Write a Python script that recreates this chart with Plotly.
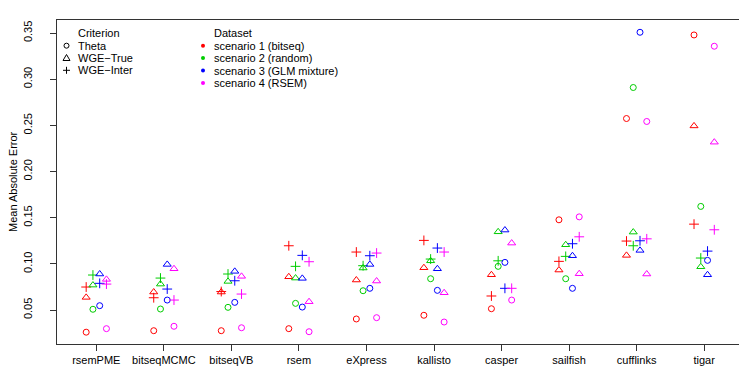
"""Mean absolute error per method, criterion and simulated dataset."""

import plotly.graph_objects as go

methods = ["rsemPME", "bitseqMCMC", "bitseqVB", "rsem", "eXpress",
           "kallisto", "casper", "sailfish", "cufflinks", "tigar"]

criteria = ["Theta", "WGE\u2212True", "WGE\u2212Inter"]
datasets = ["scenario 1 (bitseq)", "scenario 2 (random)",
            "scenario 3 (GLM mixture)", "scenario 4 (RSEM)"]

# scenario 1 (bitseq)
s1_theta = [0.0260, 0.0276, 0.0276, 0.0298, 0.0403, 0.0443, 0.0514, 0.1477, 0.2574, 0.3479]
s1_true = [0.0637, 0.0695, 0.0695, 0.0860, 0.0825, 0.0958, 0.0882, 0.0933, 0.1092, 0.2494]
s1_inter = [0.0749, 0.0633, 0.0700, 0.1196, 0.1128, 0.1254, 0.0652, 0.1027, 0.1247, 0.1430]

# scenario 2 (random)
s2_theta = [0.0508, 0.0511, 0.0529, 0.0572, 0.0709, 0.0839, 0.0973, 0.0839, 0.2910, 0.1622]
s2_true = [0.0770, 0.0781, 0.0810, 0.0846, 0.0955, 0.1033, 0.1347, 0.1207, 0.1344, 0.0969]
s2_inter = [0.0879, 0.0846, 0.0890, 0.0973, 0.0980, 0.1052, 0.1033, 0.1081, 0.1196, 0.1063]

# scenario 3 (GLM mixture)
s3_theta = [0.0547, 0.0608, 0.0583, 0.0532, 0.0735, 0.0713, 0.1016, 0.0735, 0.3508, 0.1038]
s3_true = [0.0890, 0.0994, 0.0919, 0.0843, 0.0994, 0.0947, 0.1366, 0.1088, 0.1146, 0.0882]
s3_inter = [0.0789, 0.0727, 0.0817, 0.1092, 0.1088, 0.1171, 0.0735, 0.1218, 0.1250, 0.1138]

# scenario 4 (RSEM)
s4_theta = [0.0298, 0.0324, 0.0308, 0.0265, 0.0417, 0.0370, 0.0608, 0.1509, 0.2542, 0.3357]
s4_true = [0.0832, 0.0947, 0.0865, 0.0590, 0.0814, 0.0687, 0.1225, 0.0893, 0.0890, 0.2318]
s4_inter = [0.0781, 0.0608, 0.0673, 0.1023, 0.1117, 0.1128, 0.0735, 0.1293, 0.1271, 0.1369]

y_ticks = [0.05, 0.10, 0.15, 0.20, 0.25, 0.30, 0.35]

series = [
    [s1_theta, s1_true, s1_inter],
    [s2_theta, s2_true, s2_inter],
    [s3_theta, s3_true, s3_inter],
    [s4_theta, s4_true, s4_inter],
]
colors = ["#FF0000", "#00CD00", "#0000FF", "#FF00FF"]
offsets = [-0.15, -0.05, 0.05, 0.15]
symbols = ["circle-open", "triangle-up-open", "cross-thin-open"]
sizes = [6, 7, 7]

FONT = "Liberation Sans, Arial, Helvetica, sans-serif"

# plot area in pixels (R-like margins)
W, H = 747, 374
L, R, T, B = 49, 12, 12, 38

fig = go.Figure()

for ds, (vals, col, off) in enumerate(zip(series, colors, offsets)):
    for ci, (y, sym, sz) in enumerate(zip(vals, symbols, sizes)):
        fig.add_trace(go.Scatter(
            x=[i + 1 + off for i in range(len(methods))],
            y=y,
            mode="markers",
            marker=dict(symbol=sym, size=sz, color=col, line=dict(color=col, width=1)),
            showlegend=False,
            hoverinfo="skip",
        ))


def px_to_paper(px, py):
    return (px - L) / (W - L - R), (H - B - py) / (H - T - B)


shapes = []
annotations = []


def add_text(px, py, text, **kw):
    xp, yp = px_to_paper(px, py)
    ann = dict(x=xp, y=yp, xref="paper", yref="paper", text=text,
               showarrow=False, xanchor="left", yanchor="middle",
               font=dict(size=11, color="black", family=FONT))
    ann.update(kw)
    annotations.append(ann)


def add_symbol(px, py, kind, color="black"):
    xp, yp = px_to_paper(px, py)
    base = dict(xref="paper", yref="paper", xsizemode="pixel", ysizemode="pixel",
                xanchor=xp, yanchor=yp, line=dict(color=color, width=1))
    if kind == "circle":
        shapes.append(dict(type="circle", x0=-2.5, x1=2.5, y0=-2.5, y1=2.5, **base))
    elif kind == "dot":
        base["line"] = dict(color=color, width=0)
        shapes.append(dict(type="circle", x0=-2, x1=2, y0=-2, y1=2, fillcolor=color, **base))
    elif kind == "triangle":
        shapes.append(dict(type="path", path="M-3.5,-2.5 L3.5,-2.5 L0,3.5 Z", **base))
    elif kind == "plus":
        shapes.append(dict(type="path", path="M-3.5,0 L3.5,0 M0,-3.5 L0,3.5", **base))


# legend: Criterion
add_text(68, 25, "Criterion")
for k, (lab, kind) in enumerate(zip(criteria, ["circle", "triangle", "plus"])):
    add_symbol(58.5, 37.7 + 12.3 * k, kind)
    add_text(68, 37.7 + 12.3 * k, lab)

# legend: Dataset
add_text(204, 25, "Dataset")
for k, (lab, col) in enumerate(zip(datasets, colors)):
    add_symbol(195, 37.7 + 12.4 * k, "dot", col)
    add_text(204, 37.7 + 12.4 * k, lab)

# y axis title, placed like R's mtext
add_text(5, 174, "Mean Absolute Error", textangle=-90, xanchor="center")

fig.update_layout(
    width=W,
    height=H,
    margin=dict(l=L, r=R, t=T, b=B, pad=0, autoexpand=False),
    paper_bgcolor="white",
    plot_bgcolor="white",
    font=dict(family=FONT, size=11, color="black"),
    shapes=shapes,
    annotations=annotations,
    xaxis=dict(
        range=[0.418, 10.575],
        tickvals=list(range(1, len(methods) + 1)),
        ticktext=methods,
        ticks="outside", ticklen=6, tickcolor="#333333",
        showgrid=False, zeroline=False, automargin=False,
        showline=True, linecolor="#333333", linewidth=1, mirror=True,
        tickfont=dict(size=11),
    ),
    yaxis=dict(
        range=[0.0132, 0.3641],
        tickvals=y_ticks,
        ticktext=[f"{v:.2f}" for v in y_ticks],
        tickangle=-90,
        ticks="outside", ticklen=6, tickcolor="#333333",
        ticklabelstandoff=14,
        showgrid=False, zeroline=False, automargin=False,
        showline=True, linecolor="#333333", linewidth=1, mirror=True,
        tickfont=dict(size=11),
    ),
)

fig.write_html("out.html")
